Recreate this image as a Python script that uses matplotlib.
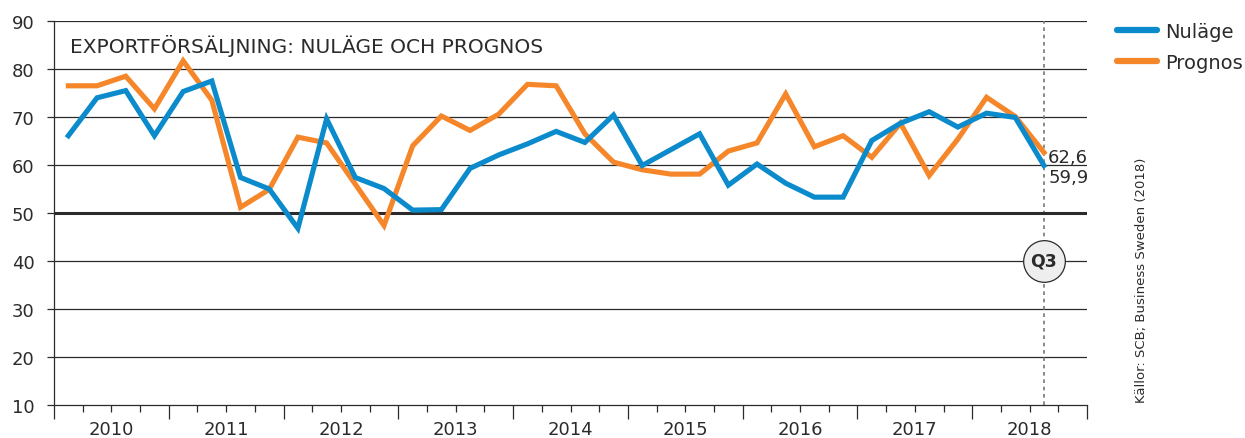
import matplotlib
matplotlib.use("Agg")
import matplotlib.pyplot as plt
from matplotlib.lines import Line2D

years = ["2010", "2011", "2012", "2013", "2014", "2015", "2016", "2017", "2018"]

nulage = [66.1, 74.0, 75.5, 66.1, 75.3, 77.5, 57.4, 55.0,
          46.8, 69.6, 57.4, 55.1, 50.6, 50.7, 59.3, 62.1,
          64.4, 67.0, 64.7, 70.4, 59.9, 63.2, 66.5, 55.8,
          60.2, 56.2, 53.3, 53.3, 65.1, 68.7, 71.1, 67.9,
          70.8, 69.9, 59.9]
prognos = [76.5, 76.5, 78.5, 71.7, 81.7, 73.5, 51.2, 54.9,
           65.8, 64.6, 56.0, 47.4, 64.0, 70.2, 67.2, 70.6,
           76.8, 76.5, 66.5, 60.6, 59.0, 58.1, 58.1, 62.9,
           64.6, 74.8, 63.8, 66.1, 61.6, 68.7, 57.8, 65.4,
           74.1, 70.1, 62.6]

title = "EXPORTFÖRSÄLJNING: NULÄGE OCH PROGNOS"
source = "Källor: SCB; Business Sweden (2018)"
label_nu = "Nuläge"
label_pr = "Prognos"
marker_text = "Q3"

BLUE = "#0B8BCB"
ORANGE = "#F5872A"
DARK = "#2b2b2b"

plt.rcParams['font.family'] = ['DejaVu Sans']

W, H = 1245, 439
fig = plt.figure(figsize=(W / 100, H / 100), dpi=100)
ax = fig.add_axes([54 / W, 33 / H, (1087 - 54) / W, (406 - 22) / H])

n = len(nulage)
x = [i + 0.5 for i in range(n)]
nq = 4 * len(years)

ax.set_xlim(0, nq)
ax.set_ylim(10, 90)

# gridlines
for v in range(20, 91, 10):
    if v == 50:
        ax.axhline(v, color=DARK, lw=2.2, zorder=2)
    else:
        ax.axhline(v, color=DARK, lw=0.9, zorder=1)

# dashed marker line
xq = x[-1]
ax.plot([xq, xq], [10, 90], color="#777777", lw=1.2, ls=(0, (2.2, 2.2)), zorder=1.5)

ax.plot(x, nulage, color=BLUE, lw=3.7, solid_joinstyle="miter", zorder=4, label=label_nu)
ax.plot(x, prognos, color=ORANGE, lw=3.7, solid_joinstyle="miter", zorder=3, label=label_pr)

# Q3 marker
ax.plot([xq], [40], marker="o", markersize=30, mfc="#eeeeee", mec=DARK, mew=0.9,
        zorder=5, clip_on=False)
ax.text(xq, 40, marker_text, ha="center", va="center", fontsize=12.5, fontweight="semibold",
        color=DARK, zorder=6)

# end labels
ax.annotate(f"{prognos[-1]:.1f}".replace(".", ","), (xq, prognos[-1]), xytext=(3, -3),
            textcoords="offset points", ha="left", va="center", fontsize=13, color=DARK)
ax.annotate(f"{nulage[-1]:.1f}".replace(".", ","), (xq, nulage[-1]), xytext=(3, -8),
            textcoords="offset points", ha="left", va="center", fontsize=13, color=DARK)

# title
ax.text(16 / (1087 - 54), (406 - 46) / (406 - 22), title, transform=ax.transAxes,
        ha="left", va="center", fontsize=14.5, color=DARK)

# spines
for s in ["top", "right"]:
    ax.spines[s].set_visible(False)
ax.spines["left"].set_color(DARK)
ax.spines["bottom"].set_color(DARK)
ax.spines["left"].set_linewidth(0.9)
ax.spines["bottom"].set_linewidth(0.9)

# y ticks
ax.set_yticks(range(10, 91, 10))
ax.tick_params(axis="y", length=5, width=0.9, color=DARK, labelsize=13,
               labelcolor=DARK, pad=9)

# x ticks: year boundaries major, quarters minor
ax.set_xticks(range(0, nq + 1, 4))
ax.set_xticklabels([])
ax.set_xticks([q for q in range(nq + 1) if q % 4 != 0], minor=True)
ax.tick_params(axis="x", which="major", length=10, width=0.9, color=DARK)
ax.tick_params(axis="x", which="minor", length=5, width=0.9, color=DARK)

for k, yr in enumerate(years):
    ax.text(4 * k + 2, -0.062, yr, transform=ax.get_xaxis_transform(), ha="center",
            va="center", fontsize=13, color=DARK)

# legend
handles = [Line2D([0], [0], color=BLUE, lw=4.5, solid_capstyle="round"),
           Line2D([0], [0], color=ORANGE, lw=4.5, solid_capstyle="round")]
fig.legend(handles, [label_nu, label_pr], loc="upper left",
           bbox_to_anchor=(1117 / W, 1 - 23 / H), frameon=False, fontsize=14,
           handlelength=2.05, handletextpad=0.45, labelspacing=0.6, borderaxespad=0,
           borderpad=0, labelcolor=DARK)

# source
fig.text(1141 / W, 1 - 280 / H, source, rotation=90, ha="center", va="center",
         fontsize=9.5, color=DARK)

fig.savefig("out.png", dpi=100)
